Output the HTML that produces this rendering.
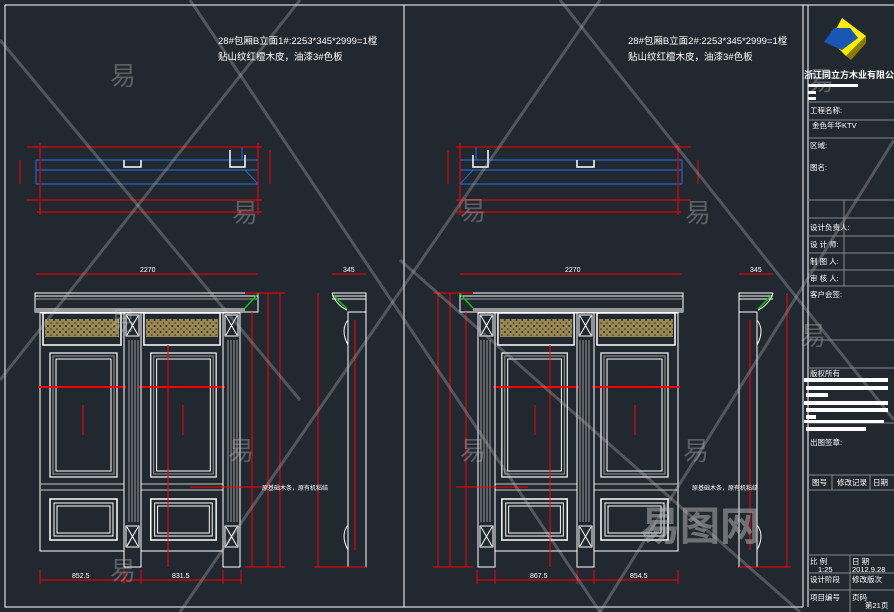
<!DOCTYPE html>
<html><head><meta charset="utf-8"><style>
html,body{margin:0;padding:0;background:#212830;}
svg{display:block;font-family:"Liberation Sans","Noto Sans CJK SC",sans-serif;}
</style></head><body>
<svg width="894" height="612" viewBox="0 0 894 612" xmlns="http://www.w3.org/2000/svg">
<rect width="894" height="612" fill="#212830"/>
<defs>
<pattern id="carve" width="6" height="6" patternUnits="userSpaceOnUse">
  <rect width="6" height="6" fill="#9a8850"/>
  <circle cx="2" cy="2" r="1" fill="#212830"/><circle cx="5" cy="5" r="0.8" fill="#212830"/>
</pattern>
<g id="leaf" fill="none">
  <rect x="0" y="1" width="84" height="238" stroke="#fff" stroke-width="1"/>
  <rect x="3" y="1" width="78" height="32" stroke="#fff" stroke-width="1.5"/>
  <rect x="5" y="7" width="74" height="18" fill="url(#carve)" stroke="none"/>
  <rect x="10" y="41" width="67" height="124" stroke="#fff" stroke-width="1.2"/>
  <rect x="13" y="44" width="61" height="118" stroke="#999" stroke-width="1"/>
  <rect x="16" y="47" width="55" height="112" stroke="#fff" stroke-width="1"/>
  <line x1="0" y1="172" x2="84" y2="172" stroke="#aaa" stroke-width="1.2"/>
  <line x1="0" y1="178" x2="84" y2="178" stroke="#aaa" stroke-width="1.2"/>
  <rect x="10" y="187" width="67" height="41" stroke="#fff" stroke-width="1.5"/>
  <rect x="14" y="191" width="59" height="33" stroke="#fff" stroke-width="1"/>
  <rect x="17" y="194" width="53" height="27" stroke="#fff" stroke-width="1"/>
  <line x1="43" y1="93" x2="43" y2="123" stroke="#f00" stroke-width="1"/>
  <line x1="-2" y1="75" x2="86" y2="75" stroke="#f00" stroke-width="2"/>
</g>
<g id="pil" fill="none" stroke="#fff" stroke-width="1">
  <rect x="0" y="1" width="17" height="254"/>
  <rect x="2" y="3" width="13" height="21"/>
  <path d="M3 4L14 23M14 4L3 23"/>
  <path d="M5 28V210M8 28V210M11 28V210M14 28V210" stroke="#999"/>
  <rect x="2" y="214" width="13" height="21"/>
  <path d="M3 215L14 234M14 215L3 234"/>
</g>
<g id="elev">
  <line x1="36" y1="274" x2="258" y2="274" stroke="#f00"/>
  <rect x="35" y="293" width="223" height="19" fill="none" stroke="#fff"/>
  <line x1="35" y1="296" x2="258" y2="296" stroke="#fff"/>
  <line x1="35" y1="299" x2="258" y2="299" stroke="#999"/>
  <rect x="35" y="308" width="210" height="4" fill="#999"/>
  <line x1="258" y1="294" x2="245" y2="308" stroke="#0c0" stroke-width="1.5"/>
  <use href="#leaf" x="40" y="312"/>
  <use href="#leaf" x="141" y="312" transform="translate(141,312) scale(0.976,1) translate(-141,-312)"/>
  <use href="#pil" x="124" y="312"/>
  <use href="#pil" x="223" y="312"/>
  <line x1="40" y1="580" x2="241" y2="580" stroke="#f00"/>
  <path d="M40 570V584M124 570V584M141 570V584M223 570V584M241 570V584" stroke="#f00"/>
  <path d="M252 312V567M268 293V567M280 293V567M168 345V567" stroke="#f00"/>
  <path d="M245 567H285M245 293H285" stroke="#f00"/>
  <line x1="190" y1="487" x2="262" y2="487" stroke="#f00"/>
</g>
<g id="side" fill="none">
  <line x1="332" y1="274" x2="366" y2="274" stroke="#f00"/>
  <path d="M332 293H366V312H348" stroke="#fff"/>
  <path d="M332 296H366M332 299H366" stroke="#fff"/>
  <path d="M332 293Q336 305 347 310" stroke="#fff"/>
  <line x1="334" y1="296" x2="347" y2="309" stroke="#0c0" stroke-width="1.5"/>
  <rect x="348" y="312" width="18" height="255" stroke="#fff"/>
  <line x1="355" y1="320" x2="355" y2="550" stroke="#f00"/>
  <line x1="318" y1="293" x2="318" y2="567" stroke="#f00"/>
  <path d="M314 567H366" stroke="#f00"/>
  <path d="M348 320Q340 330 348 345M348 525Q340 535 348 550" stroke="#fff"/>
</g>
<g id="sec" fill="none">
  <path d="M36 160H258M36 170H258M36 184H258M36 160V184M242 147V160" stroke="#2466c8" stroke-width="1.2"/>
  <path d="M258 150L258 184L245 170" stroke="#2466c8"/>
  <path d="M27 147H262M27 200H262M37 212H262M20 160V184M270 150V184M40 143V215M258 143V215" stroke="#f00"/>
  <path d="M124 160V167H141V160M230 150V167H245V155" stroke="#fff" stroke-width="1.5"/>
</g>
</defs>

<!-- frames -->
<path d="M5 5V607H404M5 5H894M404 5V607M803 5V607M404 607H803" fill="none" stroke="#fff" stroke-width="1"/>
<line x1="808" y1="5" x2="808" y2="607" stroke="#fff"/>

<!-- left sheet -->
<text x="218" y="44" fill="#fff" font-size="9.5">28#包厢B立面1#:2253*345*2999=1樘</text>
<text x="218" y="60" fill="#fff" font-size="9.5">贴山纹红檀木皮，油漆3#色板</text>
<use href="#sec"/>
<use href="#elev"/>
<use href="#side"/>
<text x="140" y="272" fill="#fff" font-size="7">2270</text>
<text x="343" y="272" fill="#fff" font-size="7">345</text>
<text x="72" y="578" fill="#fff" font-size="7">852.5</text>
<text x="172" y="578" fill="#fff" font-size="7">831.5</text>
<text x="262" y="490" fill="#fff" font-size="6">原基础木条，原有机粘结</text>

<!-- right sheet -->
<text x="628" y="44" fill="#fff" font-size="9.5">28#包厢B立面2#:2253*345*2999=1樘</text>
<text x="628" y="60" fill="#fff" font-size="9.5">贴山纹红檀木皮，油漆3#色板</text>
<g transform="translate(718,0) scale(-1,1)"><use href="#sec"/><use href="#elev"/></g>
<g transform="translate(1105,0) scale(-1,1)"><use href="#side"/></g>
<text x="565" y="272" fill="#fff" font-size="7">2270</text>
<text x="750" y="272" fill="#fff" font-size="7">345</text>
<text x="530" y="578" fill="#fff" font-size="7">867.5</text>
<text x="630" y="578" fill="#fff" font-size="7">854.5</text>
<text x="692" y="490" fill="#fff" font-size="6">原基础木条，原有机粘结</text>

<!-- watermark diagonals -->
<g stroke="#c8c8c8" stroke-opacity="0.3" stroke-width="3">
<line x1="190" y1="0" x2="600" y2="612"/>
<line x1="600" y1="0" x2="180" y2="612"/>
<line x1="0" y1="40" x2="300" y2="400"/>
<line x1="300" y1="0" x2="0" y2="380"/>
<line x1="560" y1="0" x2="894" y2="420"/>
<line x1="894" y1="140" x2="600" y2="612"/>
<line x1="400" y1="260" x2="800" y2="612"/>
</g>
<g fill="#c8c8c8" fill-opacity="0.35" font-size="26">
<text x="110" y="85">易</text><text x="232" y="222">易</text><text x="110" y="330">易</text>
<text x="228" y="460">易</text><text x="110" y="580">易</text><text x="460" y="220">易</text>
<text x="685" y="222">易</text><text x="460" y="460">易</text><text x="683" y="460">易</text>
<text x="800" y="345">易</text><text x="808" y="90">易</text>
</g>
<text x="640" y="540" fill="#bbb" fill-opacity="0.5" font-size="40" font-weight="bold">易图网</text>

<!-- title block -->
<polygon points="842,18 866,36 846,56 830,40" fill="#ffee00"/>
<polygon points="834,28 850,28 858,38 842,50 824,42" fill="#1a57b5"/>
<polygon points="846,56 866,36 866,43 851,60" fill="#8a7a00"/>
<text x="804" y="78" fill="#fff" font-size="9" font-weight="bold">浙江同立方木业有限公司</text>
<rect x="808" y="84" width="50" height="3" fill="#fff"/>
<rect x="808" y="91" width="8" height="3" fill="#fff"/>
<rect x="808" y="97" width="8" height="3" fill="#fff"/>
<g stroke="#888" stroke-width="1">
<line x1="808" y1="102" x2="894" y2="102"/><line x1="808" y1="120" x2="894" y2="120"/>
<line x1="808" y1="138" x2="894" y2="138"/><line x1="808" y1="200" x2="894" y2="200"/>
<line x1="808" y1="218" x2="894" y2="218"/><line x1="808" y1="236" x2="894" y2="236"/>
<line x1="808" y1="253" x2="894" y2="253"/><line x1="808" y1="270" x2="894" y2="270"/>
<line x1="808" y1="286" x2="894" y2="286"/><line x1="844" y1="200" x2="844" y2="286"/>
<line x1="808" y1="340" x2="894" y2="340"/><line x1="808" y1="368" x2="894" y2="368"/>
<line x1="808" y1="423" x2="894" y2="423"/><line x1="808" y1="475" x2="894" y2="475"/>
<line x1="808" y1="490" x2="894" y2="490"/><line x1="832" y1="475" x2="832" y2="490"/>
<line x1="870" y1="475" x2="870" y2="490"/><line x1="808" y1="555" x2="894" y2="555"/>
<line x1="808" y1="573" x2="894" y2="573"/><line x1="808" y1="590" x2="894" y2="590"/>
<line x1="850" y1="555" x2="850" y2="612"/>
</g>
<g fill="#fff" font-size="7.5">
<text x="810" y="113">工程名称:</text><text x="812" y="128">金色年华KTV</text>
<text x="810" y="148">区域:</text><text x="810" y="170">图名:</text>
<text x="810" y="230">设计负责人:</text><text x="810" y="247">设 计 师:</text>
<text x="810" y="264">制 图 人:</text><text x="810" y="281">审 核 人:</text>
<text x="810" y="297">客户会签:</text><text x="810" y="376">版权所有</text>
<text x="810" y="445">出图签章:</text>
<text x="812" y="485">图号</text><text x="837" y="485">修改记录</text><text x="873" y="485">日期</text>
<text x="810" y="564">比 例</text><text x="818" y="572">1:25</text>
<text x="852" y="564">日 期</text><text x="852" y="572">2012.9.28</text>
<text x="810" y="582">设计阶段</text><text x="852" y="582">修改版次</text>
<text x="810" y="600">项目编号</text><text x="852" y="600">页码</text><text x="865" y="608">第21页</text>
</g>
<g fill="#fff">
<rect x="804" y="378" width="84" height="4"/><rect x="806" y="386" width="82" height="4"/>
<rect x="806" y="393" width="22" height="4"/><rect x="804" y="401" width="84" height="4"/>
<rect x="806" y="408" width="82" height="4"/><rect x="806" y="415" width="10" height="4"/>
<rect x="804" y="420" width="80" height="3"/><rect x="806" y="427" width="60" height="4"/>
</g>
</svg>
</body></html>
